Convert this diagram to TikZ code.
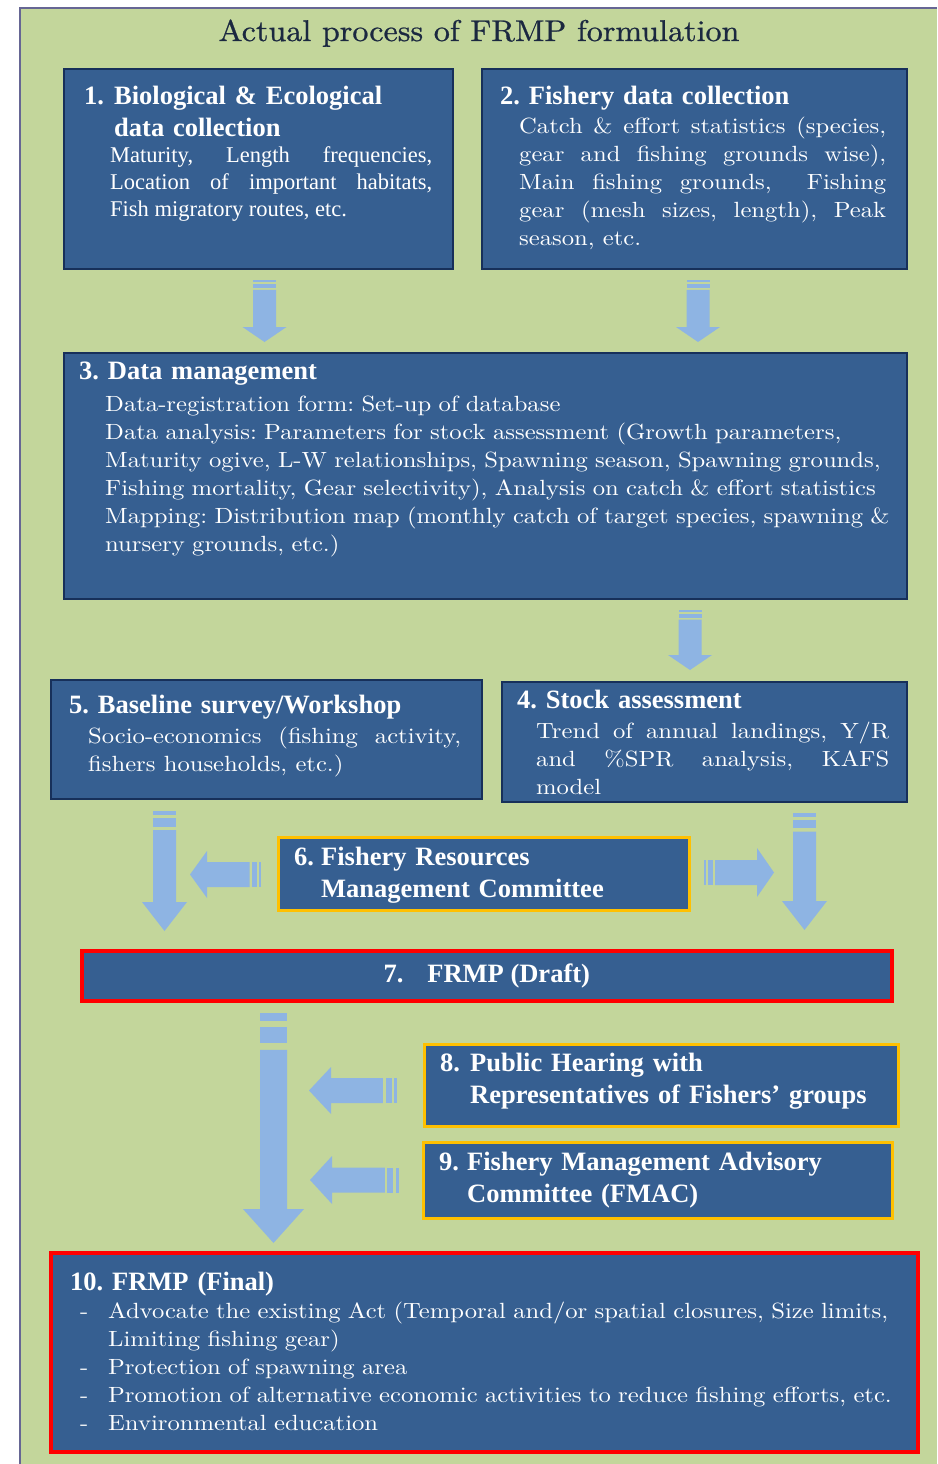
\documentclass[tikz,border=0pt]{standalone}
\usepackage{fontspec}
\usepackage{tikz}
\newfontfamily\headfont{Liberation Serif}
\newfontfamily\bodyfont{lmroman10-regular.otf}[FakeStretch=1.12]
\newfontfamily\titlefont{lmroman10-regular.otf}[FakeStretch=1.07, FakeBold=0.8]
\definecolor{boxblue}{HTML}{365F91}
\definecolor{boxline}{HTML}{17305A}
\definecolor{bggreen}{HTML}{C3D69B}
\definecolor{arrowblue}{HTML}{8EB4E3}
\definecolor{ygold}{HTML}{FFC000}
\definecolor{rred}{HTML}{FF0000}
\definecolor{titlecol}{HTML}{1B2840}
\newcommand{\nohyph}{\hyphenpenalty=10000\relax}
\tikzset{box/.style={draw=boxline, line width=1.6pt, fill=boxblue, inner sep=0pt, anchor=north west}}
\tikzset{ybox/.style={box, draw=ygold, line width=3pt}}
\tikzset{rbox/.style={box, draw=rred, line width=3.5pt}}
\tikzset{head/.style={text=white, inner sep=0pt, anchor=base west, align=left, text width=600pt,
  font=\headfont\bfseries\fontsize{26.5}{32}\selectfont\frenchspacing}}
\tikzset{body/.style={text=white, inner sep=0pt, anchor=base west, align=justify,
  font=\bodyfont\fontsize{22}{28}\selectfont\frenchspacing}}
% block arrow with two stripes at the tail
\newcommand{\stripearrow}[6]{%
  \begin{scope}[shift={#1}, rotate=#2]
    \fill[arrowblue] (0,-#4) rectangle (0.034*#3,#4);
    \fill[arrowblue] (0.062*#3,-#4) rectangle (0.13*#3,#4);
    \fill[arrowblue] (0.16*#3,-#4) -- (#3-#6,-#4) -- (#3-#6,-#5) -- (#3,0)
      -- (#3-#6,#5) -- (#3-#6,#4) -- (0.16*#3,#4) -- cycle;
  \end{scope}}

\begin{document}
\begin{tikzpicture}[x=1pt, y=-1pt]
\useasboundingbox (0,0) rectangle (937,1464);
\fill[white] (0,0) rectangle (937,1464);
\fill[bggreen] (20,8) rectangle (937,1464);
\draw[line width=2pt, draw=black!70!blue!60] (20,1464) -- (20,8) -- (937,8);

\node[text=titlecol, anchor=base, inner sep=0pt,
  font=\titlefont\fontsize{30}{34}\selectfont] (title) at (479,41)
  {Actual process of FRMP formulation};

% boxes
\node[box, minimum width=389pt, minimum height=200pt] (bio) at (63,68) {};
\node[box, minimum width=425pt, minimum height=200pt] (fish) at (481,68) {};
\node[box, minimum width=843pt, minimum height=246pt] (dman) at (63,352) {};
\node[box, minimum width=431pt, minimum height=119pt] (base) at (50,679) {};
\node[box, minimum width=405pt, minimum height=120pt] (stock) at (501,681) {};
\node[ybox, minimum width=411pt, minimum height=73pt] (frmc) at (277,836) {};
\node[rbox, minimum width=810pt, minimum height=50pt, text=white,
  font=\headfont\bfseries\fontsize{26.5}{32}\selectfont] (draft) at (80,949)
  {7.\hspace{24pt}FRMP (Draft)};
\node[ybox, minimum width=474pt, minimum height=82pt] (hear) at (423,1043) {};
\node[ybox, minimum width=469pt, minimum height=76pt] (fmac) at (422,1141) {};
\node[rbox, minimum width=867pt, minimum height=199pt] (final) at (49,1251) {};

% texts
\node[head] (h1) at (84,104) {\makebox[30pt][l]{1.}Biological \& Ecological\\\hspace*{30pt}data collection};
\node[body, text width=322pt, font=\headfont\fontsize{22.5}{27}\selectfont\frenchspacing] (t1) at (110,162)
  {\nohyph Maturity, Length frequencies,\linebreak Location of important habitats,\linebreak Fish migratory routes, etc.};
\node[head] (h2) at (500,104) {2. Fishery data collection};
\node[body, text width=367pt] (t2) at (519,133)
  {\nohyph Catch \& effort statistics (species,\linebreak gear and fishing grounds wise),\linebreak
   Main fishing grounds,\ \ Fishing\linebreak gear (mesh sizes, length), Peak\linebreak season, etc.};
\node[head] (h3) at (79,379) {3. Data management};
\node[body, align=left, text width=800pt] (t3) at (105,411)
  {Data-registration form: Set-up of database\\
   Data analysis: Parameters for stock assessment (Growth parameters,\\
   Maturity ogive, L-W relationships, Spawning season, Spawning grounds,\\
   Fishing mortality, Gear selectivity), Analysis on catch \& effort statistics\\
   Mapping: Distribution map (monthly catch of target species, spawning \&\\
   nursery grounds, etc.)};
\node[head] (h5) at (69,713) {5. Baseline survey/Workshop};
\node[body, text width=373pt] (t5) at (88,743)
  {\nohyph Socio-economics (fishing activity,\linebreak fishers households, etc.)};
\node[head] (h4) at (517,708) {4. Stock assessment};
\node[body, text width=353pt] (t4) at (536,738)
  {\nohyph Trend of annual landings, Y/R\linebreak and \%SPR analysis, KAFS\linebreak model};
\node[head] (h6) at (294,865) {\makebox[27pt][l]{6.}Fishery Resources\\\hspace*{27pt}Management Committee};
\node[head] (h8) at (440,1071) {\makebox[30pt][l]{8.}Public Hearing with\\\hspace*{30pt}Representatives of Fishers’ groups};
\node[head] (h9) at (439,1170) {\makebox[28pt][l]{9.}Fishery Management Advisory\\\hspace*{28pt}Committee (FMAC)};
\node[head] (h10) at (70,1290) {10. FRMP (Final)};
\node[body, align=left, text width=840pt] (t10) at (80,1318)
  {\makebox[28pt][l]{-}Advocate the existing Act (Temporal and/or spatial closures, Size limits,\\
   \hspace*{28pt}Limiting fishing gear)\\
   \makebox[28pt][l]{-}Protection of spawning area\\
   \makebox[28pt][l]{-}Promotion of alternative economic activities to reduce fishing efforts, etc.\\
   \makebox[28pt][l]{-}Environmental education};

% block arrows
\stripearrow{(264.5,280)}{-90}{62}{11.5}{22}{15}
\stripearrow{(698,280)}{-90}{62}{11.5}{22}{15}
\stripearrow{(690,610)}{-90}{60}{11.5}{22}{15}
\stripearrow{(164.5,811)}{-90}{120}{11.5}{22.5}{29}
\stripearrow{(804.5,813)}{-90}{117}{11.5}{22.5}{29}
\stripearrow{(273.5,1013)}{-90}{230}{13.5}{30.5}{34}
\stripearrow{(261,874.5)}{180}{71}{12.5}{23.5}{17}
\stripearrow{(704,872.5)}{0}{70}{12.5}{24.5}{17}
\stripearrow{(397,1090.5)}{180}{88}{12.5}{23.5}{22}
\stripearrow{(399,1180)}{180}{89}{12.5}{24}{22}
\end{tikzpicture}
\end{document}
